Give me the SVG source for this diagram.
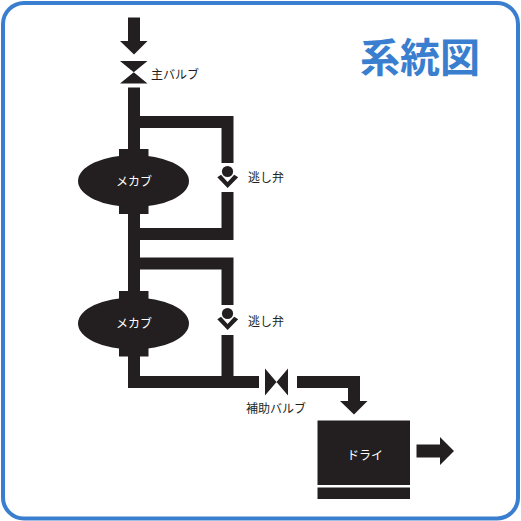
<svg xmlns="http://www.w3.org/2000/svg" width="521" height="521" viewBox="0 0 521 521">
<style>
.k{fill:#231f20}
.p{fill:none;stroke:#231f20;stroke-width:12}
text{font-family:"Noto Sans CJK JP","Noto Sans",sans-serif}
.l{font-size:12px;fill:#231f20}
.w{font-size:12px;fill:#fff;text-anchor:middle}
</style>
<rect width="521" height="521" fill="#fff"/>
<rect id="frame" x="3" y="3" width="515" height="515.500" rx="21" fill="none" stroke="#3a7ecf" stroke-width="4"/>
<text id="title" x="360" y="72" font-size="40" font-weight="700" style="fill:#3a7ecf">系統図</text>
<g id="connectors">
<path class="p" d="M134 87.500V382H259M134 122H227.500V163M227.500 192V234H134M134 263.500H227.500V305M227.500 335V382"/>
<path class="p" d="M297 382H354V402"/>
<path class="k" d="M128 17.500H140V41H147.500L134 54.500L120 41H128Z"/>
<path class="k" d="M340 401H367.500L354 414.500Z"/>
<path class="k" d="M416.500 444.500H440V437L454 451L440 465V457.500H416.500Z"/>
</g>
<g id="main-valve"><path class="k" d="M120 61H147.500L120 83.500H147.500Z"/><text class="l" x="151" y="78.500">主バルブ</text></g>
<g id="mecab-1"><ellipse class="k" cx="133.500" cy="181" rx="55.500" ry="26"/><rect class="k" x="119" y="149" width="29.500" height="65"/><text class="w" x="134" y="185.500">メカブ</text></g>
<g id="relief-1"><circle class="k" cx="227.500" cy="171.500" r="5.600"/><path class="k" d="M217.300 177.300L221 174.800L227.600 182L234.200 174.800L238.200 177.300L227.600 188Z"/><text class="l" x="248" y="181.500">逃し弁</text></g>
<g id="mecab-2"><ellipse class="k" cx="133.500" cy="323.500" rx="55.500" ry="26"/><rect class="k" x="119" y="291" width="29.500" height="65.500"/><text class="w" x="134" y="327.500">メカブ</text></g>
<g id="relief-2"><circle class="k" cx="227.500" cy="313.500" r="5.600"/><path class="k" d="M217.300 319.300L221 316.800L227.600 324L234.200 316.800L238.200 319.300L227.600 330Z"/><text class="l" x="248" y="325.500">逃し弁</text></g>
<g id="aux-valve"><path class="k" d="M265 368.500V395.500L288 368.500V395.500Z"/><text class="l" x="246" y="413">補助バルブ</text></g>
<g id="dryer"><rect class="k" x="317.500" y="420.500" width="92.500" height="64.500"/><rect class="k" x="317.500" y="487.500" width="92.500" height="11.500"/><text class="w" x="365" y="460">ドライ</text></g>
</svg>
